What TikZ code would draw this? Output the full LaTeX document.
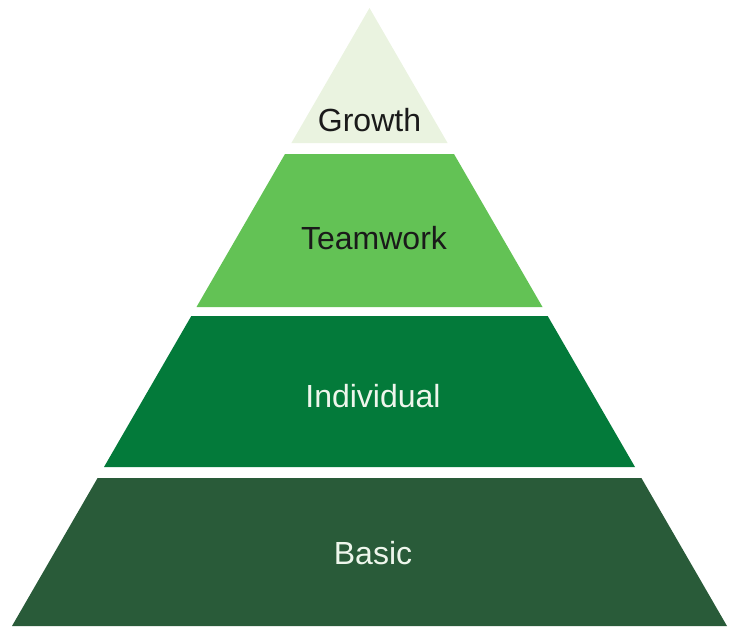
\documentclass[tikz,border=0pt]{standalone}
\usepackage{fontspec}
\setmainfont{Liberation Sans}
\definecolor{growthgreen}{HTML}{EAF3E0}
\definecolor{teamgreen}{HTML}{63C255}
\definecolor{indivgreen}{HTML}{037A3A}
\definecolor{basicgreen}{HTML}{295B39}
\definecolor{darktext}{HTML}{1A1A1A}
\definecolor{lighttext}{HTML}{EEF6EC}
\begin{document}
\begin{tikzpicture}[x=1pt, y=-1pt, every node/.style={font=\fontsize{32}{38}\selectfont, inner sep=0pt}]
  \useasboundingbox (0,0) rectangle (742,638);
  % four layers of the pyramid
  \fill[growthgreen] (369.5,8) -- (447.6,143) -- (291.4,143) -- cycle;
  \fill[teamgreen] (285.0,154) -- (454.0,154) -- (542.5,307) -- (196.5,307) -- cycle;
  \fill[indivgreen] (191.3,316) -- (547.7,316) -- (635.0,467) -- (104.0,467) -- cycle;
  \fill[basicgreen] (97.6,478) -- (641.4,478) -- (727,626) -- (12,626) -- cycle;
  % layer labels
  \node[text=darktext] (growth) at (369.5,120) {Growth};
  \node[text=darktext] (teamwork) at (374,238) {Teamwork};
  \node[text=lighttext] (individual) at (373,396) {Individual};
  \node[text=lighttext] (basic) at (373,553) {Basic};
\end{tikzpicture}
\end{document}
